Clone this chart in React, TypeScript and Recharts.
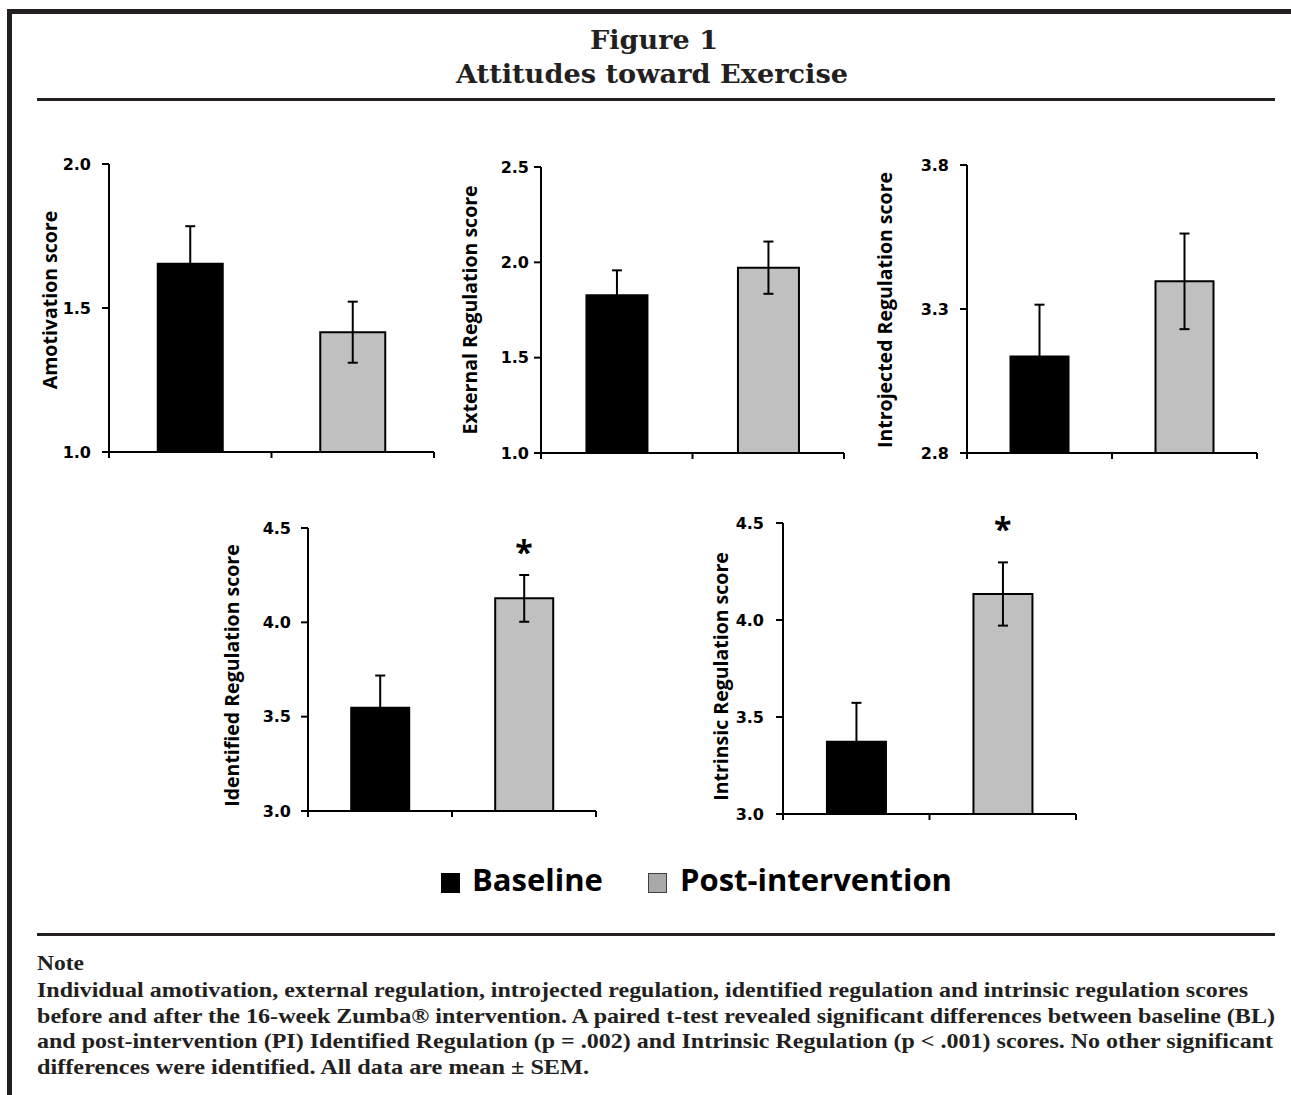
import React from "react";
import { BarChart, Bar, XAxis, YAxis, ErrorBar, Cell, ReferenceDot } from "recharts";

// ---------- data ----------
const categories = ["Baseline", "Post-intervention"];
const categoryPositions = [0.5, 1.5]; // centre of each category slot on the x scale
const categoryEdges = [0, 1, 2]; // x-axis tick marks sit between categories
const seriesColors = ["#000000", "#c0c0c0"];

const amotivationMean = [1.654, 1.416];
const amotivationSem = [0.13, 0.106];
const externalMean = [1.828, 1.972];
const externalSem = [0.13, 0.137];
const introjectedMean = [3.135, 3.396];
const introjectedSem = [0.18, 0.166];
const identifiedMean = [3.547, 4.127];
const identifiedSem = [0.171, 0.124];
const intrinsicMean = [3.373, 4.134];
const intrinsicSem = [0.2, 0.163];

const amotivationTicks = [1.0, 1.5, 2.0];
const externalTicks = [1.0, 1.5, 2.0, 2.5];
const introjectedTicks = [2.8, 3.3, 3.8];
const identifiedTicks = [3.0, 3.5, 4.0, 4.5];
const intrinsicTicks = [3.0, 3.5, 4.0, 4.5];

// significance marker (*) height in score units, for Post-intervention
const identifiedStar = 4.385;
const intrinsicStar = 4.48;

const titleLines = ["Figure 1", "Attitudes toward Exercise"];
const noteHeading = "Note";
const noteLines = [
  "Individual amotivation, external regulation, introjected regulation, identified regulation and intrinsic regulation scores",
  "before and after the 16-week Zumba\u00AE intervention. A paired t-test revealed significant differences between baseline (BL)",
  "and post-intervention (PI) Identified Regulation (p = .002) and Intrinsic Regulation (p < .001) scores. No other significant",
  "differences were identified. All data are mean \u00B1 SEM.",
];

// ---------- layout ----------
const panels = [
  { label: "Amotivation score", mean: amotivationMean, sem: amotivationSem, ticks: amotivationTicks, star: null as number | null,
    axisX: 109, xEnd: 434, yTop: 164, yBottom: 452, labelOff: 60, labelDy: -8, tickMargin: 11 },
  { label: "External Regulation score", mean: externalMean, sem: externalSem, ticks: externalTicks, star: null as number | null,
    axisX: 541, xEnd: 844, yTop: 167, yBottom: 453, labelOff: 72, labelDy: 0, tickMargin: 5 },
  { label: "Introjected Regulation score", mean: introjectedMean, sem: introjectedSem, ticks: introjectedTicks, star: null as number | null,
    axisX: 967, xEnd: 1257, yTop: 165, yBottom: 453, labelOff: 83, labelDy: 1, tickMargin: 11 },
  { label: "Identified Regulation score", mean: identifiedMean, sem: identifiedSem, ticks: identifiedTicks, star: identifiedStar as number | null,
    axisX: 308, xEnd: 596, yTop: 528, yBottom: 811, labelOff: 77, labelDy: 6, tickMargin: 10 },
  { label: "Intrinsic Regulation score", mean: intrinsicMean, sem: intrinsicSem, ticks: intrinsicTicks, star: intrinsicStar as number | null,
    axisX: 783, xEnd: 1076, yTop: 523, yBottom: 814, labelOff: 63, labelDy: 8, tickMargin: 12 },
];

const LEFT = 110;
const TOP = 20;
const RIGHT = 10;
const BOTTOM_AXIS = 10;

const LABEL_FONT = "'Open Sans', sans-serif";
const TICK_FONT = "'DejaVu Sans', sans-serif";

const EmptyTick = () => <g />;

function Panel({ p }: { p: (typeof panels)[number] }) {
  const data = categories.map((name, i) => ({ name, pos: categoryPositions[i], mean: p.mean[i], sem: p.sem[i] }));
  const w = LEFT + (p.xEnd - p.axisX) + RIGHT;
  const h = TOP + (p.yBottom - p.yTop) + BOTTOM_AXIS;
  const lo = p.ticks[0];
  const hi = p.ticks[p.ticks.length - 1];
  return (
    <div style={{ position: "absolute", left: p.axisX - LEFT, top: p.yTop - TOP }}>
      <BarChart width={w} height={h} data={data} margin={{ top: TOP, right: RIGHT, bottom: 0, left: 0 }} barCategoryGap="30%">
        <XAxis
          dataKey="pos"
          type="number"
          domain={[categoryEdges[0], categoryEdges[categoryEdges.length - 1]]}
          ticks={categoryEdges}
          interval={0}
          allowDataOverflow
          tick={EmptyTick}
          tickSize={6}
          height={BOTTOM_AXIS}
          axisLine={{ stroke: "#000", strokeWidth: 2 }}
          tickLine={{ stroke: "#000", strokeWidth: 2 }}
        />
        <YAxis
          width={LEFT}
          type="number"
          domain={[lo, hi]}
          ticks={p.ticks}
          allowDataOverflow
          interval={0}
          tickSize={7}
          tickMargin={p.tickMargin}
          tickFormatter={(v: number) => v.toFixed(1)}
          tick={{ fontFamily: TICK_FONT, fontWeight: "bold", fontSize: 16, fill: "#000" }}
          axisLine={{ stroke: "#000", strokeWidth: 2 }}
          tickLine={{ stroke: "#000", strokeWidth: 2 }}
          label={{
            content: (props: any) => {
              const vb = props.viewBox || {};
              const cx = vb.x + vb.width - p.labelOff;
              const cy = vb.y + vb.height / 2 + p.labelDy;
              return (
                <text
                  x={cx}
                  y={cy}
                  transform={`rotate(-90 ${cx} ${cy})`}
                  textAnchor="middle"
                  dominantBaseline="central"
                  fontFamily={LABEL_FONT}
                  fontWeight="bold"
                  fontSize={19.5}
                  fill="#000"
                >
                  {p.label}
                </text>
              );
            },
          }}
        />
        <Bar dataKey="mean" stroke="#000" strokeWidth={2} isAnimationActive={false}>
          {data.map((d, i) => (
            <Cell key={d.name} fill={seriesColors[i]} />
          ))}
          <ErrorBar dataKey="sem" width={5} stroke="#000" strokeWidth={2} direction="y" />
        </Bar>
        {p.star != null && (
          <ReferenceDot
            x={categoryPositions[1]}
            y={p.star}
            r={0}
            fill="none"
            stroke="none"
            ifOverflow="visible"
            label={{
              content: (props: any) => {
                const vb = props.viewBox || {};
                const cx = vb.x + (vb.width || 0) / 2;
                const cy = vb.y + (vb.height || 0) / 2;
                return (
                  <text x={cx} y={cy + 14} textAnchor="middle" fontFamily={LABEL_FONT} fontWeight="bold" fontSize={32} fill="#000">
                    *
                  </text>
                );
              },
            }}
          />
        )}
      </BarChart>
    </div>
  );
}

export default function App() {
  return (
    <div style={{ position: "absolute", left: 0, top: 0, width: 1291, height: 1095, background: "#fff", overflow: "hidden" }}>
      <svg width={1291} height={1095} style={{ position: "absolute", left: 0, top: 0 }}>
        {/* frame */}
        <rect x={7} y={9} width={1284} height={5} fill="#231f20" />
        <rect x={7} y={9} width={5} height={1086} fill="#231f20" />
        {/* rules */}
        <rect x={37} y={98} width={1238} height={3} fill="#231f20" />
        <rect x={37} y={933} width={1238} height={3} fill="#231f20" />
        {/* title */}
        <text x={654} y={49} textAnchor="middle" fontFamily="'DejaVu Serif', serif" fontWeight="bold" fontSize={26} fill="#231f20"
          textLength={128} lengthAdjust="spacingAndGlyphs">
          {titleLines[0]}
        </text>
        <text x={652} y={83} textAnchor="middle" fontFamily="'DejaVu Serif', serif" fontWeight="bold" fontSize={26} fill="#231f20"
          textLength={392} lengthAdjust="spacingAndGlyphs">
          {titleLines[1]}
        </text>
        {/* note */}
        <text x={37} y={970} fontFamily="'Liberation Serif', serif" fontWeight="bold" fontSize={21} fill="#231f20"
          textLength={47} lengthAdjust="spacingAndGlyphs">
          {noteHeading}
        </text>
        {noteLines.map((line, i) => (
          <text key={i} x={37} y={997 + i * 25.7} fontFamily="'Liberation Serif', serif" fontWeight="bold" fontSize={21} fill="#231f20"
            textLength={[1211, 1238, 1236, 552][i]} lengthAdjust="spacingAndGlyphs">
            {line}
          </text>
        ))}
      </svg>

      {panels.map((p) => (
        <Panel key={p.label} p={p} />
      ))}

      {/* legend */}
      <div style={{ position: "absolute", left: 441, top: 873, width: 19, height: 20, background: seriesColors[0] }} />
      <div style={{ position: "absolute", left: 472, top: 858, fontFamily: LABEL_FONT, fontWeight: "bold", fontSize: 31, lineHeight: "42px", color: "#000", whiteSpace: "nowrap" }}>
        {categories[0]}
      </div>
      <div style={{ position: "absolute", left: 648, top: 873, width: 19, height: 20, boxSizing: "border-box", border: "1.5px solid #404040", background: "#a9a9a9" }} />
      <div style={{ position: "absolute", left: 680, top: 858, fontFamily: LABEL_FONT, fontWeight: "bold", fontSize: 31, lineHeight: "42px", color: "#000", whiteSpace: "nowrap" }}>
        {categories[1]}
      </div>
    </div>
  );
}
